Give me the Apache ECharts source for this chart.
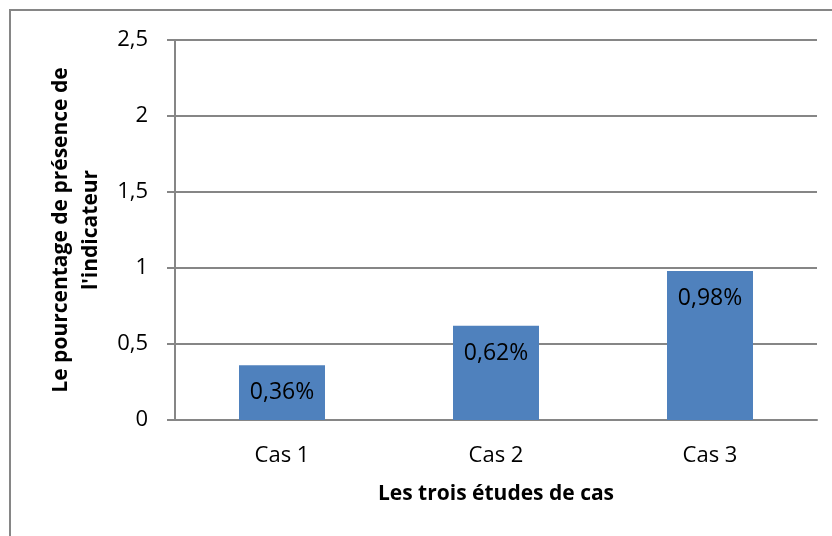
<!DOCTYPE html>
<html lang="fr">
<head>
    <meta charset="UTF-8">
    <title>Pourcentage de présence de l'indicateur</title>
    <script src="https://cdn.jsdelivr.net/npm/echarts@6/dist/echarts.min.js"></script>
    <style>
        html, body { margin: 0; padding: 0; background: #fff; }
    </style>
</head>
<body>
<div id="chartmain" style="width: 832px; height: 536px;"></div>
<script type="text/javascript">
    // données
    var categories = ['Cas 1', 'Cas 2', 'Cas 3'];
    var valeurs = [0.36, 0.62, 0.98];
    var etiquettes = ['0,36%', '0,62%', '0,98%'];

    var gris = '#868686';
    var police = 'Open Sans';

    var myChart = echarts.init(document.getElementById('chartmain'));

    var option = {
        animation: false,
        textStyle: { fontFamily: police },
        graphic: [{
            type: 'rect',
            shape: { x: 10, y: 10, width: 840, height: 560 },
            style: { fill: 'none', stroke: gris, lineWidth: 2 },
            silent: true
        }],
        grid: { left: 175, right: 15, top: 40, bottom: 116 },
        xAxis: {
            type: 'category',
            data: categories,
            name: 'Les trois études de cas',
            nameLocation: 'middle',
            nameGap: 64,
            nameTextStyle: { fontSize: 21, fontWeight: 'bold', color: '#000', fontFamily: police },
            axisLine: { lineStyle: { color: gris, width: 2 } },
            axisTick: { length: 7, lineStyle: { color: gris, width: 2 } },
            axisLabel: { fontSize: 22, color: '#000', margin: 25, fontFamily: police }
        },
        yAxis: {
            type: 'value',
            min: 0,
            max: 2.5,
            interval: 0.5,
            name: 'Le pourcentage de présence de\nl\'indicateur',
            nameLocation: 'middle',
            nameGap: 68,
            nameTextStyle: { fontSize: 21, fontWeight: 'bold', color: '#000', lineHeight: 30, fontFamily: police },
            axisLine: { show: true, lineStyle: { color: gris, width: 2 } },
            axisTick: { show: true, length: 8, lineStyle: { color: gris, width: 2 } },
            splitLine: { lineStyle: { color: gris, width: 2 } },
            axisLabel: {
                fontSize: 22, color: '#000', margin: 27, fontFamily: police,
                formatter: function (v) { return String(v).replace('.', ','); }
            }
        },
        series: [{
            type: 'bar',
            data: valeurs,
            barWidth: 86,
            itemStyle: { color: '#4F81BD' },
            label: {
                show: true,
                position: 'insideTop',
                distance: 16,
                fontSize: 23,
                color: '#000',
                fontFamily: police,
                formatter: function (p) { return etiquettes[p.dataIndex]; }
            }
        }]
    };

    myChart.setOption(option);
</script>
</body>
</html>
